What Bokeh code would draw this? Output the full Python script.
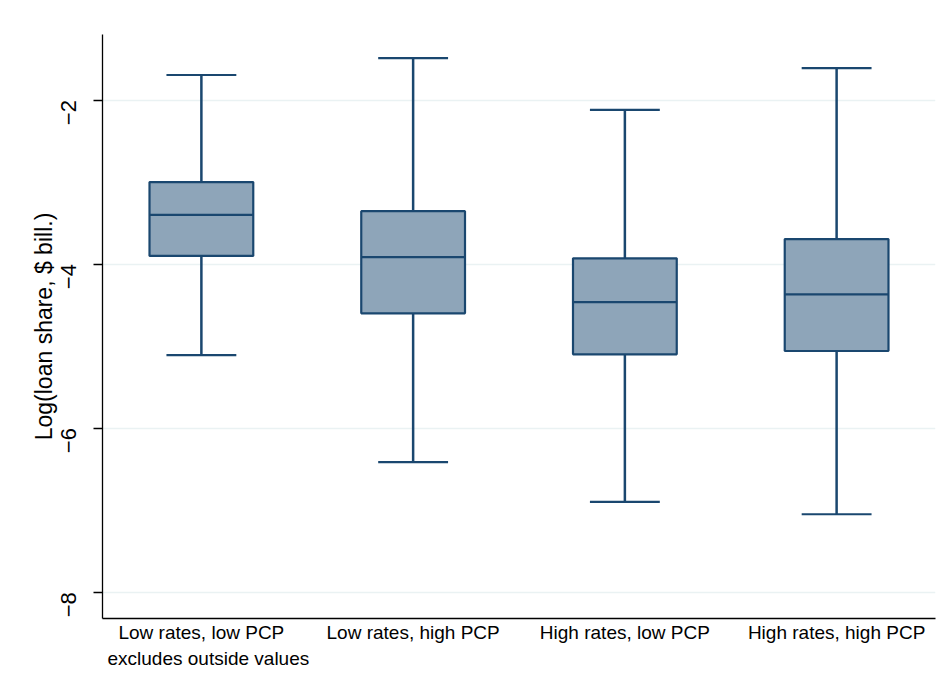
import math
from bokeh.plotting import figure
from bokeh.models import Range1d, FixedTicker, ColumnDataSource, Title
from bokeh.embed import file_html
from bokeh.resources import INLINE

# ---- data ----
groups = ["Low rates, low PCP", "Low rates, high PCP", "High rates, low PCP", "High rates, high PCP"]
positions = [1, 2, 3, 4]
upper_whisker = [-1.695, -1.49, -2.12, -1.61]
q3 = [-3.00, -3.355, -3.93, -3.695]
median = [-3.40, -3.915, -4.465, -4.37]
q1 = [-3.90, -4.60, -5.10, -5.06]
lower_whisker = [-5.11, -6.415, -6.90, -7.05]
y_ticks = [-8, -6, -4, -2]
note = "excludes outside values"
y_title = "Log(loan share, $ bill.)"

# ---- styling ----
LINE = "#1A476F"
FILL = "#8EA5B9"
GRID = "#EAF2F3"
FONT = "Liberation Sans"
BOX_W = 0.49
CAP_W = 0.33

src = ColumnDataSource(dict(
    x=positions,
    upper=upper_whisker, q3=q3, med=median, q1=q1, lower=lower_whisker,
    bl=[p - BOX_W / 2 for p in positions], br=[p + BOX_W / 2 for p in positions],
    cl=[p - CAP_W / 2 for p in positions], cr=[p + CAP_W / 2 for p in positions],
))

x_start, x_end = 0.533, 4.467
y_start, y_end = -8.321, -1.201

p = figure(width=940, height=692, output_backend="svg", toolbar_location=None,
           x_range=Range1d(x_start, x_end), y_range=Range1d(y_start, y_end),
           min_border_left=102, min_border_right=5, min_border_top=34, min_border_bottom=74)
p.outline_line_color = None
p.background_fill_color = "white"
p.border_fill_color = "white"

# whiskers
p.segment(x0="x", y0="q3", x1="x", y1="upper", source=src, line_color=LINE, line_width=2.5)
p.segment(x0="x", y0="q1", x1="x", y1="lower", source=src, line_color=LINE, line_width=2.5)
# caps
p.segment(x0="cl", y0="upper", x1="cr", y1="upper", source=src, line_color=LINE, line_width=2.2)
p.segment(x0="cl", y0="lower", x1="cr", y1="lower", source=src, line_color=LINE, line_width=2.2)
# boxes
p.vbar(x="x", width=BOX_W, top="q3", bottom="q1", source=src,
       fill_color=FILL, line_color=LINE, line_width=2.2)
# medians
p.segment(x0="bl", y0="med", x1="br", y1="med", source=src, line_color=LINE, line_width=2.2)

# axes
p.xaxis.ticker = FixedTicker(ticks=positions)
p.xaxis.major_label_overrides = {pos: g for pos, g in zip(positions, groups)}
p.xaxis.major_tick_line_color = None
p.xaxis.minor_tick_line_color = None
p.xaxis.axis_line_color = "#000000"
p.xaxis.axis_line_width = 1.3
p.xaxis.major_label_text_font = FONT
p.xaxis.major_label_text_font_size = "19px"
p.xaxis.major_label_text_color = "#000000"
p.xaxis.major_label_standoff = -3

p.yaxis.ticker = FixedTicker(ticks=y_ticks)
p.yaxis.minor_tick_line_color = None
p.yaxis.major_tick_out = 9
p.yaxis.major_tick_in = 0
p.yaxis.major_tick_line_color = "#000000"
p.yaxis.major_tick_line_width = 1.3
p.yaxis.axis_line_color = "#000000"
p.yaxis.axis_line_width = 1.3
p.yaxis.major_label_orientation = math.pi / 2
p.yaxis.major_label_text_font = FONT
p.yaxis.major_label_text_font_size = "22px"
p.yaxis.major_label_text_color = "#000000"
p.yaxis.major_label_standoff = 25
p.yaxis.axis_label = y_title
p.yaxis.axis_label_text_font = FONT
p.yaxis.axis_label_text_font_size = "23px"
p.yaxis.axis_label_text_font_style = "normal"
p.yaxis.axis_label_text_color = "#000000"
p.yaxis.axis_label_standoff = -6

p.xgrid.grid_line_color = None
p.ygrid.grid_line_color = GRID
p.ygrid.grid_line_width = 1.5

p.add_layout(Title(text=note, align="left", offset=5, standoff=0,
                   text_font=FONT, text_font_size="19px", text_color="#000000",
                   text_font_style="normal"), "below")

open("out.html", "w").write(file_html(p, INLINE))
